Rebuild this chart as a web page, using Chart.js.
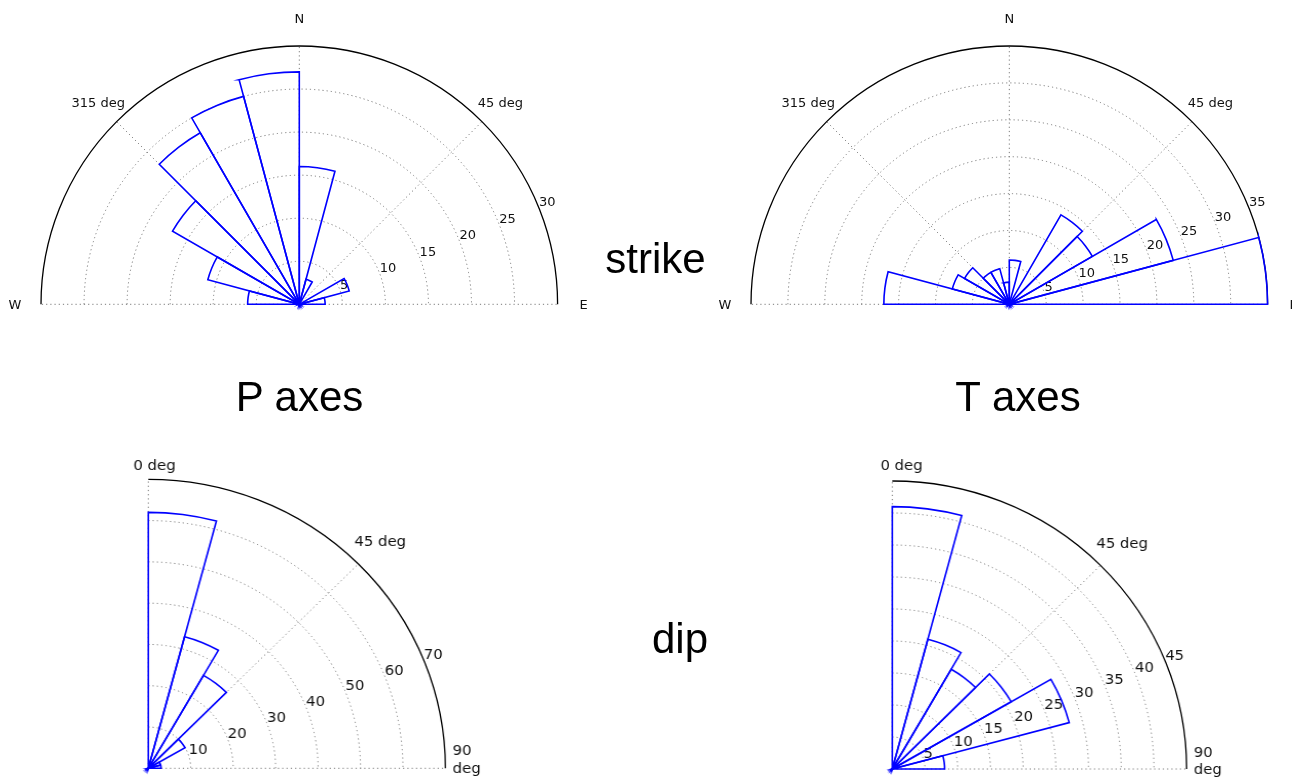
<!DOCTYPE html>
<html>
<head>
<meta charset="utf-8">
<script src="https://cdn.jsdelivr.net/npm/chart.js@4.4.1/dist/chart.umd.min.js"></script>
<style>
html,body{margin:0;padding:0;background:#fff;width:1292px;height:779px;overflow:hidden;}
canvas{position:absolute;left:0;top:0;}
.big{position:absolute;font-family:"Liberation Sans",Arial,sans-serif;font-size:42px;line-height:42px;color:#000;white-space:nowrap;text-align:center;width:300px;}
</style>
</head>
<body>
<canvas id="pStrike" width="1292" height="779"></canvas>
<canvas id="tStrike" width="1292" height="779"></canvas>
<canvas id="pDip" width="1292" height="779" style="transform:scaleX(1.028);transform-origin:148.3px 768.3px"></canvas>
<canvas id="tDip" width="1292" height="779" style="transform:scaleX(1.022);transform-origin:892.3px 769px"></canvas>
<div class="big" style="left:505.5px;top:237.5px">strike</div>
<div class="big" style="left:149.5px;top:375.5px">P axes</div>
<div class="big" style="left:868px;top:375.5px">T axes</div>
<div class="big" style="left:530px;top:617.5px">dip</div>
<script>
// ---- data (15-degree bins, counts) ----
const strikeBins = ['270-285','285-300','300-315','315-330','330-345','345-360','0-15','15-30','30-45','45-60','60-75','75-90'];
const dipBins = ['0-15','15-30','30-45','45-60','60-75','75-90'];
const pStrikeCounts = [6, 11, 17, 23, 25, 27, 16, 3, 0, 0, 6, 3];
const tStrikeCounts = [17, 8, 7, 5, 5, 3, 6, 0, 14, 13, 23, 35];
const pDipCounts = [62, 33, 26, 10, 3, 3];
const tDipCounts = [41, 21, 18, 21, 28, 8];
const pStrikeMax = 30, tStrikeMax = 35, pDipMax = 70, tDipMax = 45;
const pStrikeStep = 5, tStrikeStep = 5, pDipStep = 10, tDipStep = 5;
const strikeDirLabels = ['N', '45 deg', '315 deg', 'W', 'E'];
const dipDirLabels = ['0 deg', '45 deg', '90\ndeg'];

const GRID = '#7a7a7a';
const rad = d => (d - 90) * Math.PI / 180;

const roseGrid = {
  id: 'roseGrid',
  beforeDatasetsDraw(chart, args, o) {
    const s = chart.scales.r, ctx = chart.ctx;
    const cx = s.xCenter, cy = s.yCenter, R = s.drawingArea;
    ctx.save();
    ctx.lineWidth = 1; ctx.strokeStyle = GRID; ctx.setLineDash([1.2, 3]);
    for (const t of s.ticks) {
      if (t.value <= s.min || t.value >= s.max) continue;
      const r = s.getDistanceFromCenterForValue(t.value);
      ctx.beginPath(); ctx.arc(cx, cy, r, rad(o.from), rad(o.to)); ctx.stroke();
    }
    for (const d of o.spokes) {
      ctx.beginPath(); ctx.moveTo(cx, cy);
      ctx.lineTo(cx + R * Math.cos(rad(d)), cy + R * Math.sin(rad(d))); ctx.stroke();
    }
    ctx.setLineDash([]); ctx.strokeStyle = '#000'; ctx.lineWidth = 1.3;
    ctx.beginPath(); ctx.arc(cx, cy, R, rad(o.from), rad(o.to)); ctx.stroke();
    ctx.fillStyle = '#111';
    ctx.font = o.fontSize + 'px "DejaVu Sans"';
    ctx.textAlign = 'left'; ctx.textBaseline = 'alphabetic';
    const la = rad(o.tickAngle);
    for (const t of s.ticks) {
      if (t.value <= s.min) continue;
      const r = s.getDistanceFromCenterForValue(t.value);
      ctx.fillText(t.label, cx + r * Math.cos(la) + 1, cy + r * Math.sin(la) + 1);
    }
    for (const l of o.angleLabels) {
      const r = R + l.gap;
      const x = cx + r * Math.cos(rad(l.deg)) + (l.dx || 0);
      const y = cy + r * Math.sin(rad(l.deg)) + (l.dy || 0);
      ctx.textAlign = l.align || 'center'; ctx.textBaseline = 'middle';
      const lines = l.text.split('\n');
      const lh = o.fontSize * 1.2;
      lines.forEach((ln, i) => ctx.fillText(ln, x, y + (i - (lines.length - 1) / 2) * lh));
    }
    ctx.restore();
  }
};

function makeRose(id, labels, values, max, step, startDeg, geom, grid) {
  new Chart(document.getElementById(id), {
    type: 'polarArea',
    data: {
      labels: labels,
      datasets: [{
        data: values,
        angle: 15,
        backgroundColor: 'rgba(0,0,0,0)',
        borderColor: '#0000ff',
        borderWidth: 1.6,
        borderJoinStyle: 'miter',
        clip: false
      }]
    },
    options: {
      responsive: false,
      animation: false,
      events: [],
      layout: { padding: 0 },
      plugins: { legend: { display: false }, tooltip: { enabled: false }, roseGrid: grid },
      scales: {
        r: {
          min: 0, max: max, startAngle: startDeg,
          ticks: { stepSize: step, display: false },
          grid: { display: false },
          angleLines: { display: false },
          pointLabels: { display: false },
          afterFit: (s) => { s.xCenter = geom.cx; s.yCenter = geom.cy; s.drawingArea = geom.r; }
        }
      }
    },
    plugins: [roseGrid]
  });
}

const strikeGrid = (fs) => ({
  from: 270, to: 450, spokes: [270, 315, 0, 45, 90], tickAngle: 67.5, fontSize: fs,
  angleLabels: [
    { text: strikeDirLabels[0], deg: 0, gap: 26 },
    { text: strikeDirLabels[1], deg: 45, gap: 26 },
    { text: strikeDirLabels[2], deg: 315, gap: 26 },
    { text: strikeDirLabels[3], deg: 270, gap: 26, dy: 1 },
    { text: strikeDirLabels[4], deg: 90, gap: 26, dy: 1 }
  ]
});

makeRose('pStrike', strikeBins, pStrikeCounts, pStrikeMax, pStrikeStep, 270,
  { cx: 299.3, cy: 304.3, r: 258.3 }, strikeGrid(13));
makeRose('tStrike', strikeBins, tStrikeCounts, tStrikeMax, tStrikeStep, 270,
  { cx: 1009.3, cy: 304.3, r: 258.3 }, strikeGrid(13));

makeRose('pDip', dipBins, pDipCounts, pDipMax, pDipStep, 0,
  { cx: 148.3, cy: 768.3, r: 289 }, {
    from: 0, to: 90, spokes: [0, 45, 90], tickAngle: 67.5, fontSize: 14.5,
    angleLabels: [
      { text: dipDirLabels[0], deg: 0, gap: 13, dx: 6 },
      { text: dipDirLabels[1], deg: 45, gap: 30 },
      { text: dipDirLabels[2], deg: 90, gap: 7, dy: -8, align: 'left' }
    ]
  });
makeRose('tDip', dipBins, tDipCounts, tDipMax, tDipStep, 0,
  { cx: 892.3, cy: 769, r: 288 }, {
    from: 0, to: 90, spokes: [0, 45, 90], tickAngle: 67.5, fontSize: 14.5,
    angleLabels: [
      { text: dipDirLabels[0], deg: 0, gap: 15, dx: 9 },
      { text: dipDirLabels[1], deg: 45, gap: 30 },
      { text: dipDirLabels[2], deg: 90, gap: 7, dy: -7, align: 'left' }
    ]
  });
</script>
</body>
</html>
